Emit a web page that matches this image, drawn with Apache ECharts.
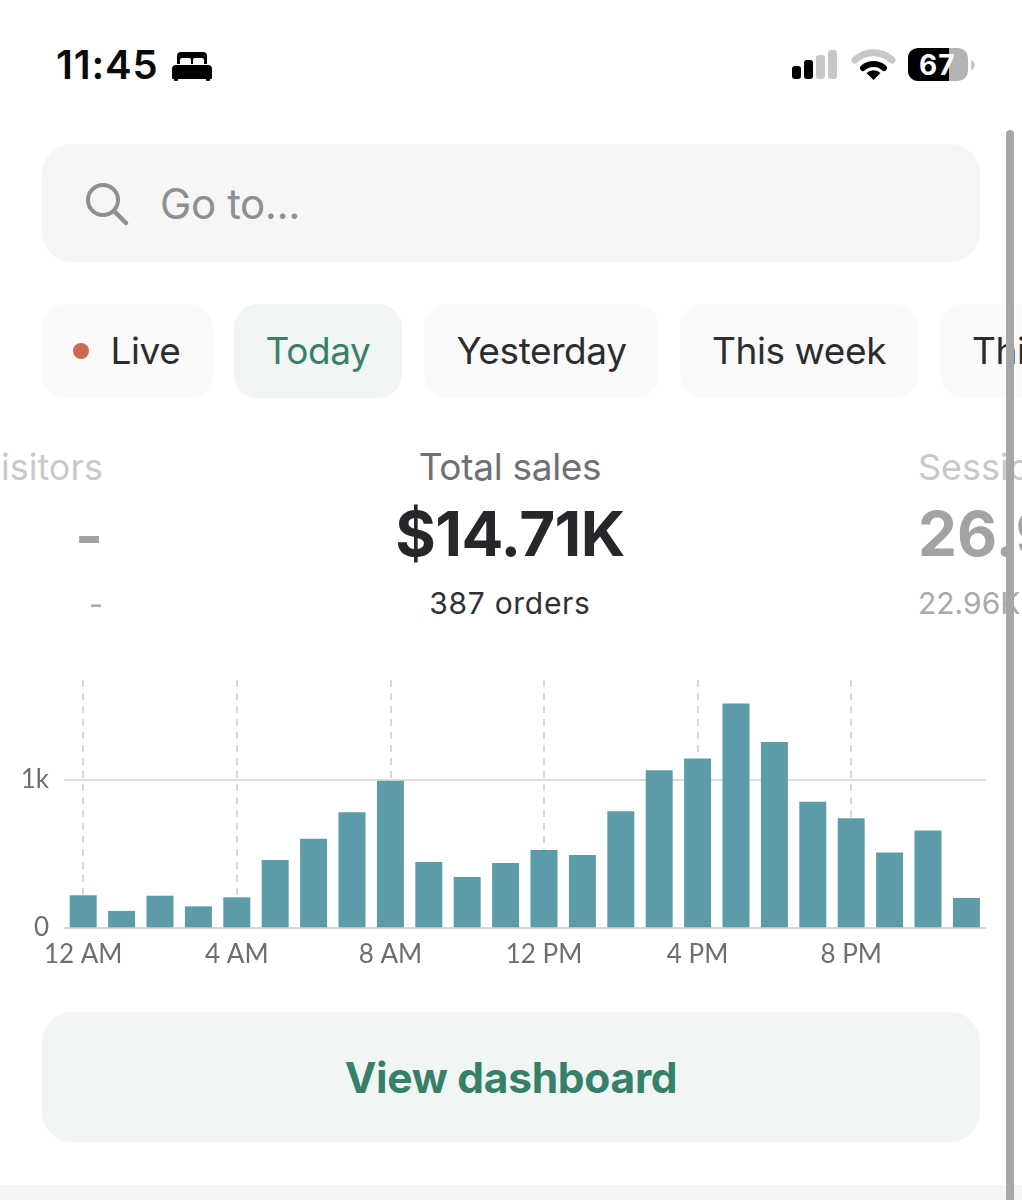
<!DOCTYPE html>
<html>
<head>
<meta charset="utf-8">
<title>Total sales</title>
<script src="https://cdn.jsdelivr.net/npm/echarts@6/dist/echarts.min.js"></script>
<style>
html,body{margin:0;padding:0;background:#fff;}
body{width:1022px;height:1200px;position:relative;overflow:hidden;font-family:Inter,"Noto Sans",sans-serif;}
.abs{position:absolute;white-space:nowrap;}
.box{position:absolute;box-sizing:border-box;}
.tab{position:absolute;top:304px;height:94px;border-radius:24px;background:#fafafa;color:#2b2c2f;font-size:37px;line-height:94px;text-align:center;letter-spacing:-0.4px;}
.ctr{left:210px;width:600px;text-align:center;}
#chart{position:absolute;left:0;top:660px;width:1022px;height:340px;}
</style>
</head>
<body>
<!-- status bar -->
<div class="abs" style="left:56px;top:42px;font-size:40px;font-weight:600;color:#0a0a0a;letter-spacing:0.8px;line-height:46px;">11:45</div>
<svg class="abs" style="left:171px;top:50px" width="42" height="32" viewBox="0 0 42 32">
  <path d="M6 14V6a4 4 0 0 1 4-4h22a4 4 0 0 1 4 4v8h-3V10a2 2 0 0 0-2-2h-7a2 2 0 0 0-2 2v4h-2V10a2 2 0 0 0-2-2h-7a2 2 0 0 0-2 2v4z" fill="#000"/>
  <path d="M1 28V19a4 4 0 0 1 4-4h32a4 4 0 0 1 4 4v9a1 1 0 0 1-1 1h-1v1a1 1 0 0 1-1 1h-2a1 1 0 0 1-1-1v-1H7v1a1 1 0 0 1-1 1H4a1 1 0 0 1-1-1v-1H2a1 1 0 0 1-1-1z" fill="#000"/>
</svg>
<svg class="abs" style="left:790px;top:46px" width="190" height="38" viewBox="0 0 190 38">
  <rect x="2" y="20" width="9" height="13" rx="3" fill="#000"/>
  <rect x="14" y="14" width="9" height="19" rx="3" fill="#000"/>
  <rect x="26" y="9" width="9" height="24" rx="3" fill="#c8c8c8"/>
  <rect x="38" y="4" width="9" height="29" rx="3" fill="#c8c8c8"/>
  <path d="M65 14a27 27 0 0 1 37 0" fill="none" stroke="#c8c8c8" stroke-width="7" stroke-linecap="round"/>
  <path d="M73 22a16 16 0 0 1 21 0" fill="none" stroke="#000" stroke-width="6" stroke-linecap="round"/>
  <path d="M83.500 34l-7-7a10 10 0 0 1 14 0z" fill="#000"/>
  <path d="M129 2h30v33h-30a10 10 0 0 1-11-10V12a10 10 0 0 1 11-10z" fill="#000"/>
  <path d="M159 2h9a10 10 0 0 1 10 10v13a10 10 0 0 1-10 10h-9z" fill="#b3b3b3"/>
  <path d="M181 14a6 6 0 0 1 4 5 6 6 0 0 1-4 5z" fill="#c8c8c8"/>
</svg>
<div class="abs" style="left:919px;top:45px;font-size:28px;font-weight:700;color:#fff;line-height:40px;letter-spacing:1px;">67</div>

<!-- search -->
<div class="box" style="left:42px;top:144px;width:938px;height:118px;border-radius:30px;background:#f6f6f7;"></div>
<svg class="abs" style="left:83px;top:181px" width="50" height="48" viewBox="0 0 50 48">
  <circle cx="20" cy="19" r="15" fill="none" stroke="#8d8f93" stroke-width="4"/>
  <path d="M31 30l12 12" stroke="#8d8f93" stroke-width="4.500" stroke-linecap="round"/>
</svg>
<div class="abs" style="left:160px;top:178px;font-size:42px;line-height:52px;color:#8d8f93;letter-spacing:-0.4px;">Go to...</div>

<!-- date tabs -->
<div class="tab" style="left:42px;width:171px;padding-left:36px;box-sizing:border-box;">Live</div>
<div class="box" style="left:73px;top:343px;width:16px;height:16px;border-radius:50%;background:#cf6a52;"></div>
<div class="tab" style="left:234px;width:168px;background:#f1f5f3;color:#3a8069;">Today</div>
<div class="tab" style="left:424px;width:235px;">Yesterday</div>
<div class="tab" style="left:680px;width:238px;">This week</div>
<div class="tab" style="left:940px;width:240px;text-align:left;padding-left:32px;box-sizing:border-box;">This month</div>

<!-- metrics -->
<div class="abs" style="right:919px;top:444px;font-size:36px;line-height:46px;color:#c9c9cb;">Visitors</div>
<div class="abs" style="left:75px;top:498px;font-size:60px;font-weight:700;line-height:74px;color:#a3a3a5;">-</div>
<div class="abs" style="left:89px;top:586px;font-size:30px;line-height:36px;color:#aaaaac;">-</div>

<div class="abs ctr" style="top:444px;font-size:37px;line-height:46px;color:#6e7074;letter-spacing:-0.3px;">Total sales</div>
<div class="abs ctr" style="top:497px;font-size:62px;font-weight:700;line-height:74px;color:#26272a;letter-spacing:-0.6px;">$14.71K</div>
<div class="abs ctr" style="top:585px;font-size:30px;line-height:36px;color:#303134;letter-spacing:0.7px;">387 orders</div>

<div class="abs" style="left:918px;top:444px;font-size:36px;line-height:46px;color:#c9c9cb;">Sessions</div>
<div class="abs" style="left:918px;top:497px;font-size:62px;font-weight:700;line-height:74px;color:#a3a3a5;">26.96K</div>
<div class="abs" style="left:918px;top:585px;font-size:30px;line-height:36px;color:#aaaaac;">22.96K</div>

<div id="chart"></div>

<!-- button -->
<div class="box" style="left:42px;top:1012px;width:938px;height:130px;border-radius:30px;background:#f1f5f4;"></div>
<div class="abs" style="left:42px;width:938px;top:1050px;text-align:center;font-size:42.500px;line-height:56px;font-weight:700;color:#36806a;letter-spacing:-0.3px;">View dashboard</div>

<!-- page bottom + scrollbar -->
<div class="box" style="left:0;top:1185px;width:1022px;height:15px;background:#f4f4f5;"></div>
<div class="box" style="left:1006px;top:130px;width:8px;height:1080px;border-radius:4px;background:#a6a6a6;"></div>

<script type="text/javascript">
var hours = ['12 AM','1 AM','2 AM','3 AM','4 AM','5 AM','6 AM','7 AM','8 AM','9 AM','10 AM','11 AM',
             '12 PM','1 PM','2 PM','3 PM','4 PM','5 PM','6 PM','7 PM','8 PM','9 PM','10 PM','11 PM'];
var sales = [217,111,214,142,203,456,600,779,993,442,341,436,
             524,490,786,1063,1144,1515,1255,851,738,506,655,199];
var yTicks = [0,1000];

var myChart = echarts.init(document.getElementById('chart'));
myChart.setOption({
    animation: false,
    backgroundColor: 'transparent',
    grid: { left: 64, top: 20, width: 921.6, height: 247.3, containLabel: false },
    xAxis: {
        type: 'category',
        data: hours,
        axisLine: { show: true, lineStyle: { color: '#d2d2d2', width: 1.5 } },
        axisTick: { show: false },
        axisLabel: { interval: 3, color: '#6e6e6e', fontSize: 26, fontFamily: 'Lato', margin: 14 },
        splitLine: {
            show: true,
            interval: 3,
            alignWithLabel: true,
            lineStyle: { color: '#cbcbcb', width: 1.5, type: [7, 6] }
        }
    },
    yAxis: {
        type: 'value',
        min: 0,
        max: 1675,
        interval: 1000,
        axisLine: { show: false },
        axisTick: { show: false, customValues: yTicks },
        axisLabel: {
            customValues: yTicks,
            color: '#6e6e6e',
            fontSize: 26,
            fontFamily: 'Lato',
            margin: 15,
            formatter: function (v) { return v >= 1000 ? (v / 1000) + 'k' : String(v); }
        },
        splitLine: { show: true, lineStyle: { color: '#d2d2d2', width: 1.5 } }
    },
    series: [{
        type: 'bar',
        data: sales,
        barWidth: 27,
        itemStyle: { color: '#5e9ba8' }
    }]
});
</script>
</body>
</html>
